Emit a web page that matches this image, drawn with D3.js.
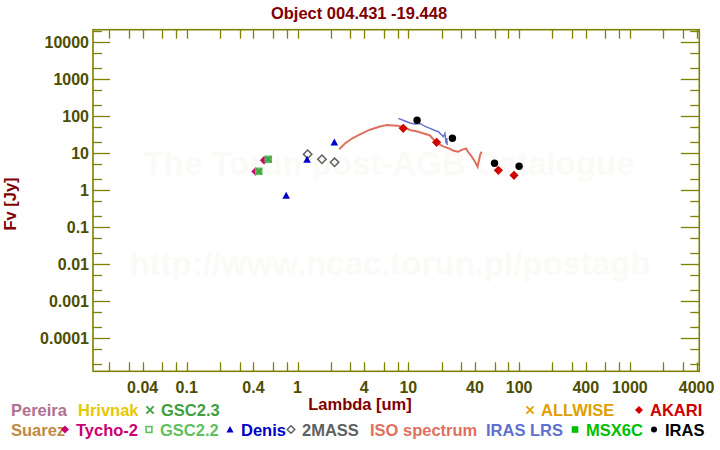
<!DOCTYPE html>
<html>
<head>
<meta charset="utf-8">
<script src="https://cdn.jsdelivr.net/npm/d3@7"></script>
<style>
  html, body { margin: 0; padding: 0; background: #ffffff; }
  svg { display: block; }
  text { font-family: "Liberation Sans", Arial, Helvetica, sans-serif; font-weight: bold; }
</style>
</head>
<body>
<svg id="chart" width="720" height="450"></svg>
<script>
// ---------------- data ----------------
const title = "Object 004.431 -19.448";
const xLabel = "Lambda [um]";
const yLabel = "Fv [Jy]";

const xTickLabels = [0.04, 0.1, 0.4, 1, 4, 10, 40, 100, 400, 1000, 4000];
const yTickLabels = [10000, 1000, 100, 10, 1, 0.1, 0.01, 0.001, 0.0001];

// photometry: wavelength (um) and flux (Jy)
const tycho2Lambda = [0.418, 0.499];
const tycho2Flux   = [3.22, 6.47];
const gsc22Lambda  = [0.447, 0.545];
const gsc22Flux    = [3.26, 6.88];
const gsc23Lambda  = [0.447, 0.545];
const gsc23Flux    = [3.26, 6.88];
const denisLambda  = [0.79, 1.22, 2.15];
const denisFlux    = [0.72, 6.8, 19.8];
const twomassLambda = [1.235, 1.662, 2.159];
const twomassFlux   = [9.4, 6.9, 5.7];
const akariLambda  = [9, 18, 65, 90];
const akariFlux    = [47.4, 19.8, 3.47, 2.54];
const irasLambda   = [12, 25, 60, 100];
const irasFlux     = [78.0, 25.4, 5.37, 4.45];

// spectra
const isoLambda = [2.38, 2.68, 3.10, 3.66, 4.51, 5.55, 6.42, 7.91, 8.96, 10.4, 12.0, 13.6, 15.7, 17.8,
                   20.6, 23.3, 25.3, 28.1, 31.2, 33.2, 34.6, 37.4, 40.0, 42.2, 43.5, 44.4, 45.9];
const isoFlux   = [12.8, 18.4, 25.1, 32.6, 43.4, 53.0, 58.2, 55.7, 51.4, 42.6, 38.8, 34.7, 30.3, 19.6,
                   15.3, 13.5, 11.9, 11.0, 12.8, 13.5, 11.0, 8.1, 5.93, 4.34, 6.59, 9.0, 11.0];
const lrsLambda = [8.13, 9.33, 10.36, 11.5, 12.8, 14.2, 15.7, 17.4, 18.7, 20.0, 20.7, 21.4, 21.9, 22.2, 22.5];
const lrsFlux   = [88.3, 74.6, 65.9, 61.9, 63.8, 53.0, 47.4, 41.3, 38.4, 31.2, 28.1, 34.7, 18.6, 25.9, 16.8];

// legend
const legendRow1 = ["Pereira", "Hrivnak", "GSC2.3", "ALLWISE", "AKARI"];
const legendRow2 = ["Suarez", "Tycho-2", "GSC2.2", "Denis", "2MASS", "ISO spectrum", "IRAS LRS", "MSX6C", "IRAS"];

// ---------------- styling / layout ----------------
const colors = {
  "Pereira": "#b07090", "Hrivnak": "#e6c800", "GSC2.3": "#40a040", "ALLWISE": "#e0a000",
  "AKARI": "#d00000", "Suarez": "#c08a40", "Tycho-2": "#cc0070", "GSC2.2": "#60c060",
  "Denis": "#0000c8", "2MASS": "#606060", "ISO spectrum": "#e07060", "IRAS LRS": "#6070d0",
  "MSX6C": "#00c000", "IRAS": "#000000"
};
const markerOf = {
  "GSC2.3": "times", "ALLWISE": "times", "AKARI": "diamond", "Tycho-2": "diamond",
  "GSC2.2": "squareOpen", "Denis": "triangle", "2MASS": "diamondOpen", "MSX6C": "square", "IRAS": "circle"
};
const legendPos1 = {"Pereira": 11, "Hrivnak": 78, "GSC2.3": 161, "ALLWISE": 541, "AKARI": 650};
const legendPos2 = {"Suarez": 11, "Tycho-2": 76, "GSC2.2": 160, "Denis": 241, "2MASS": 302,
                    "ISO spectrum": 370, "IRAS LRS": 486, "MSX6C": 586, "IRAS": 665};

const axisColor = "#808000";
const tickTextColor = "#4d4d00";
const titleColor = "#800000";

const L = 93, R = 699.3, T = 29.7, B = 371.3;

const svg = d3.select("#chart");

const x = d3.scaleLog().domain([0.01426, 4231]).range([L, R]);
const y = d3.scaleLog().domain([1.28e-5, 21900]).range([B, T]);

// watermark
svg.append("text").attr("x", 389).attr("y", 175).attr("text-anchor", "middle")
  .attr("font-size", 33).attr("fill", "#fcfaf7").text("The Torun post-AGB Catalogue");
svg.append("text").attr("x", 390).attr("y", 275).attr("text-anchor", "middle")
  .attr("font-size", 33).attr("fill", "#fcfaf7").text("http://www.ncac.torun.pl/postagb");

// ticks
const decadesX = d3.range(-2, 4);
const xMinor = [];
decadesX.forEach(e => [1, 2, 3, 4, 6, 8].forEach(m => {
  const v = m * Math.pow(10, e);
  if (v >= x.domain()[0] && v <= x.domain()[1]) xMinor.push(v);
}));
const gAxes = svg.append("g").attr("stroke", axisColor).attr("stroke-width", 1.3);
xMinor.forEach(v => {
  const px = Math.round(x(v)) + 0.5;
  gAxes.append("line").attr("x1", px).attr("x2", px).attr("y1", B).attr("y2", B - 9);
  gAxes.append("line").attr("x1", px).attr("x2", px).attr("y1", T).attr("y2", T + 9);
});
const yTicks = [];
d3.range(-5, 5).forEach(e => [1, 2, 5].forEach(m => {
  const v = m * Math.pow(10, e);
  if (v >= y.domain()[0] && v <= y.domain()[1]) yTicks.push({v, major: m === 1});
}));
yTicks.forEach(t => {
  const py = Math.round(y(t.v)) + 0.5;
  const len = t.major ? 17 : 9;
  gAxes.append("line").attr("x1", L).attr("x2", L + len).attr("y1", py).attr("y2", py);
  gAxes.append("line").attr("x1", R).attr("x2", R - len - (t.major ? 1.5 : 0)).attr("y1", py).attr("y2", py);
});
svg.append("rect").attr("x", L).attr("y", T).attr("width", R - L).attr("height", B - T)
  .attr("fill", "none").attr("stroke", axisColor).attr("stroke-width", 1.6);

// tick labels
svg.append("g").selectAll("text").data(xTickLabels).join("text")
  .attr("x", d => x(d)).attr("y", 393).attr("text-anchor", "middle")
  .attr("font-size", 16).attr("fill", tickTextColor).text(d => String(d));
svg.append("g").selectAll("text").data(yTickLabels).join("text")
  .attr("x", 89).attr("y", d => y(d) + 5.8).attr("text-anchor", "end")
  .attr("font-size", 16).attr("fill", tickTextColor).text(d => String(d));

// titles
svg.append("text").attr("x", 359).attr("y", 18.5).attr("text-anchor", "middle")
  .attr("font-size", 16.5).attr("fill", titleColor).text(title);
svg.append("text").attr("x", 360).attr("y", 409.5).attr("text-anchor", "middle")
  .attr("font-size", 16.5).attr("fill", titleColor).text(xLabel);
svg.append("text").attr("transform", "translate(15.5,204) rotate(-90)").attr("text-anchor", "middle")
  .attr("font-size", 16.5).attr("fill", titleColor).text(yLabel);

// marker drawing
function drawMarker(g, type, cx, cy, s, color) {
  if (type === "circle") {
    g.append("circle").attr("cx", cx).attr("cy", cy).attr("r", s).attr("fill", color);
  } else if (type === "diamond" || type === "diamondOpen") {
    const p = `M${cx},${cy - s}L${cx + s},${cy}L${cx},${cy + s}L${cx - s},${cy}Z`;
    const el = g.append("path").attr("d", p);
    if (type === "diamond") el.attr("fill", color);
    else el.attr("fill", "none").attr("stroke", color).attr("stroke-width", 1.5);
  } else if (type === "triangle") {
    const p = `M${cx},${cy - s}L${cx + s},${cy + s * 0.85}L${cx - s},${cy + s * 0.85}Z`;
    g.append("path").attr("d", p).attr("fill", color);
  } else if (type === "square" || type === "squareOpen") {
    const el = g.append("rect").attr("x", cx - s).attr("y", cy - s).attr("width", 2 * s).attr("height", 2 * s);
    if (type === "square") el.attr("fill", color);
    else el.attr("fill", "none").attr("stroke", color).attr("stroke-width", 1.6);
  } else if (type === "times") {
    const p = `M${cx - s},${cy - s}L${cx + s},${cy + s}M${cx - s},${cy + s}L${cx + s},${cy - s}`;
    g.append("path").attr("d", p).attr("stroke", color).attr("stroke-width", 1.8).attr("fill", "none");
  }
}

// spectra
const plot = svg.append("g");
const line = d3.line().x(d => x(d[0])).y(d => y(d[1]));
plot.append("path").datum(d3.zip(isoLambda, isoFlux)).attr("d", line)
  .attr("fill", "none").attr("stroke", colors["ISO spectrum"]).attr("stroke-width", 2);
plot.append("path").datum(d3.zip(lrsLambda, lrsFlux)).attr("d", line)
  .attr("fill", "none").attr("stroke", colors["IRAS LRS"]).attr("stroke-width", 1.4);

// photometry
const sets = [
  ["Tycho-2", tycho2Lambda, tycho2Flux, 4.2],
  ["GSC2.2", gsc22Lambda, gsc22Flux, 3.2],
  ["GSC2.3", gsc23Lambda, gsc23Flux, 2.8],
  ["2MASS", twomassLambda, twomassFlux, 4.2],
  ["Denis", denisLambda, denisFlux, 3.8],
  ["AKARI", akariLambda, akariFlux, 4.6],
  ["IRAS", irasLambda, irasFlux, 3.7]
];
sets.forEach(([name, ls, fs, s]) => {
  ls.forEach((l, i) => {
    if (name === "GSC2.2") {
      plot.append("rect").attr("x", x(l) - s).attr("y", y(fs[i]) - s).attr("width", 2 * s).attr("height", 2 * s)
        .attr("fill", "#6cc46c").attr("stroke", colors[name]).attr("stroke-width", 1.2);
    } else {
      drawMarker(plot, markerOf[name], x(l), y(fs[i]), s, colors[name]);
    }
  });
});

// legend
const leg = svg.append("g");
function legendRow(items, pos, baseline) {
  items.forEach(name => {
    const tx = pos[name];
    leg.append("text").attr("x", tx).attr("y", baseline).attr("font-size", 16.5)
      .attr("fill", colors[name]).text(name);
    if (markerOf[name]) {
      const sz = {"circle": 3, "diamond": 4, "diamondOpen": 3.8, "triangle": 3.6,
                  "square": 3.3, "squareOpen": 2.9, "times": 3.6}[markerOf[name]];
      drawMarker(leg, markerOf[name], tx - 11, baseline - 6, sz, colors[name]);
    }
  });
}
legendRow(legendRow1, legendPos1, 416);
legendRow(legendRow2, legendPos2, 435.5);
</script>
</body>
</html>
